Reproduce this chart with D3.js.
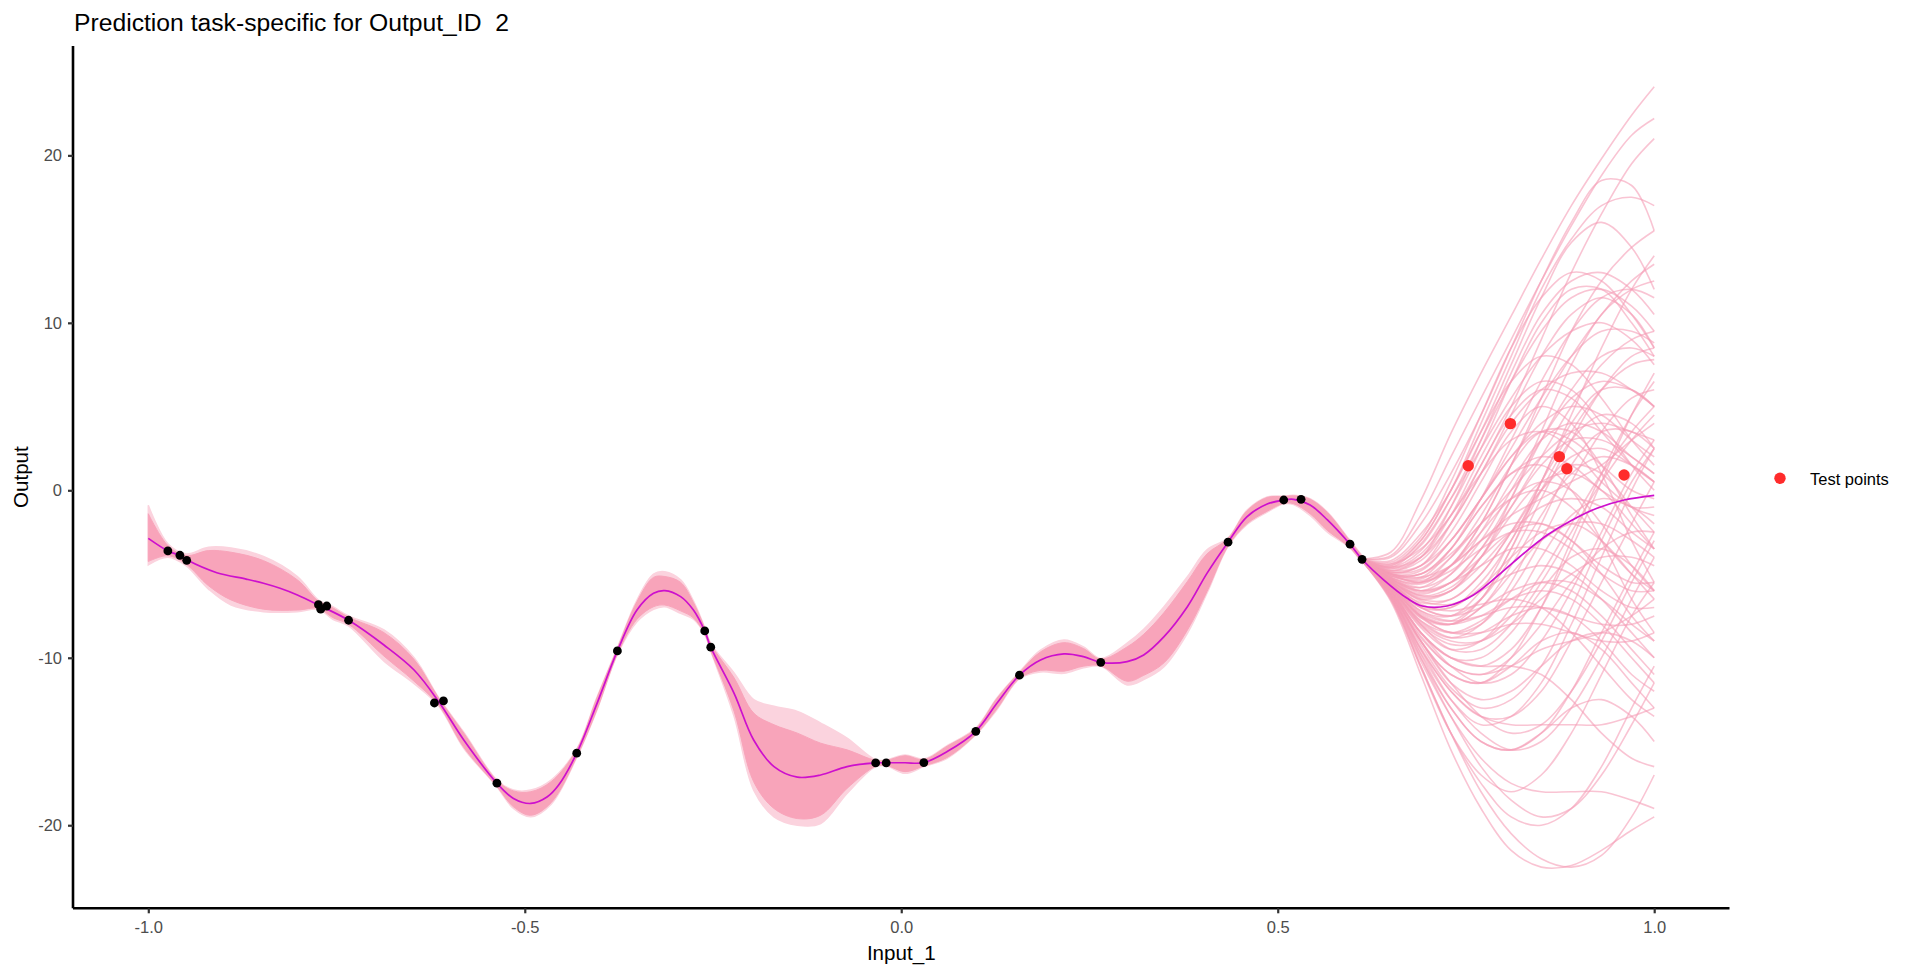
<!DOCTYPE html>
<html>
<head>
<meta charset="utf-8">
<script src="https://cdn.jsdelivr.net/npm/d3@7"></script>
<style>
  html, body { margin: 0; padding: 0; background: #ffffff; }
  svg { display: block; font-family: "Liberation Sans", Arial, sans-serif; }
</style>
</head>
<body>
<svg id="chart" width="1920" height="975"></svg>
<script>
// ---------------- data ----------------
const titleText = "Prediction task-specific for Output_ID  2";
const xLabel = "Input_1";
const yLabel = "Output";
const legendLabel = "Test points";

const xTicks = [-1.0, -0.5, 0.0, 0.5, 1.0];
const yTicks = [-20, -10, 0, 10, 20];

// training observations (black)
const trainX = [-0.974, -0.958, -0.949, -0.774, -0.771, -0.763, -0.734, -0.620, -0.608, -0.537,
                -0.431, -0.377, -0.261, -0.253, -0.034, -0.020, 0.030, 0.099, 0.157, 0.265,
                0.434, 0.508, 0.531, 0.596, 0.612];
const trainY = [-3.62, -3.88, -4.18, -6.83, -7.10, -6.91, -7.76, -12.70, -12.58, -17.49,
                -15.70, -9.59, -8.40, -9.37, -16.28, -16.28, -16.26, -14.39, -11.04, -10.27,
                -3.10, -0.58, -0.54, -3.22, -4.12];

// test points (red)
const testX = [0.753, 0.809, 0.874, 0.884, 0.960];
const testY = [1.47, 3.98, 2.01, 1.29, 0.91];

// predictive mean (magenta line)
const meanX = [-1.000, -0.974, -0.958, -0.949, -0.909, -0.870, -0.847, -0.825, -0.802, -0.774,
               -0.734, -0.687, -0.647, -0.614, -0.581, -0.537, -0.515, -0.492, -0.470, -0.455,
               -0.431, -0.404, -0.377, -0.351, -0.329, -0.314, -0.293, -0.276, -0.261, -0.253,
               -0.222, -0.196, -0.169, -0.138, -0.107, -0.072, -0.034, -0.020, 0.005, 0.030,
               0.061, 0.099, 0.127, 0.157, 0.185, 0.216, 0.242, 0.265, 0.300, 0.322,
               0.349, 0.380, 0.406, 0.434, 0.459, 0.486, 0.508, 0.521, 0.543, 0.566,
               0.596, 0.612, 0.641, 0.672, 0.692, 0.725, 0.760, 0.796, 0.827, 0.858,
               0.890, 0.924, 0.960, 1.000];
const meanY = [-2.87, -3.62, -3.90, -4.15, -4.92, -5.30, -5.55, -5.85, -6.25, -6.85,
               -7.76, -9.24, -10.73, -12.64, -14.91, -17.49, -18.40, -18.70, -18.30, -17.60,
               -15.70, -12.72, -9.59, -7.15, -6.15, -5.99, -6.35, -7.15, -8.40, -9.37,
               -12.12, -14.91, -16.50, -17.13, -17.00, -16.50, -16.28, -16.27, -16.27, -16.26,
               -15.60, -14.39, -12.72, -11.04, -10.13, -9.77, -9.93, -10.27, -10.23, -9.83,
               -8.74, -6.95, -4.96, -3.10, -1.58, -0.82, -0.58, -0.54, -0.88, -1.77,
               -3.22, -4.12, -5.36, -6.45, -6.91, -6.91, -6.25, -4.96, -3.76, -2.67,
               -1.80, -1.07, -0.58, -0.30];

// envelope of the posterior samples where they stay bundled
const bandX = [-1.000, -0.974, -0.950, -0.920, -0.890, -0.847, -0.802, -0.774, -0.755, -0.734,
               -0.687, -0.647, -0.614, -0.581, -0.537, -0.515, -0.492, -0.465, -0.431, -0.404,
               -0.377, -0.351, -0.329, -0.314, -0.293, -0.276, -0.261, -0.253, -0.222, -0.196,
               -0.169, -0.138, -0.107, -0.072, -0.034, -0.020, 0.005, 0.030, 0.061, 0.099,
               0.127, 0.157, 0.185, 0.216, 0.242, 0.265, 0.300, 0.322, 0.349, 0.380,
               0.406, 0.434, 0.459, 0.486, 0.508, 0.521, 0.543, 0.566, 0.596, 0.612];
const bandOuterHi = [-0.9, -3.2, -3.8, -3.4, -3.45, -3.95, -5.15, -6.55, -6.95, -7.5,
               -8.34, -10.0, -12.4, -14.45, -17.3, -17.9, -17.9, -17.3, -15.45, -12.35,
               -9.4, -6.55, -5.0, -4.86, -5.35, -6.6, -8.2, -9.15, -10.9, -12.5,
               -12.9, -13.2, -13.9, -14.8, -16.1, -16.1, -15.8, -16.05, -15.25, -14.2,
               -12.4, -10.85, -9.55, -8.94, -9.35, -10.05, -9.13, -8.3, -6.95, -5.16,
               -3.56, -2.85, -1.2, -0.4, -0.35, -0.3, -0.5, -1.3, -3.0, -3.9];
const bandInnerHi = [-1.4, -3.3, -3.9, -3.6, -3.7, -4.2, -5.35, -6.62, -7.02, -7.58,
               -8.5, -10.1, -12.43, -14.5, -17.33, -17.95, -18.0, -17.4, -15.48, -12.38,
               -9.43, -6.65, -5.2, -5.15, -5.5, -6.7, -8.23, -9.18, -11.2, -13.3,
               -14.0, -14.5, -15.1, -15.5, -16.13, -16.13, -15.85, -16.08, -15.28, -14.23,
               -12.43, -10.88, -9.65, -9.1, -9.45, -10.08, -9.35, -8.6, -7.3, -5.45,
               -3.8, -2.88, -1.23, -0.43, -0.38, -0.33, -0.53, -1.33, -3.03, -3.93];
const bandInnerLo = [-4.25, -3.9, -4.4, -5.7, -6.55, -7.1, -7.15, -7.05, -7.6, -8.0,
               -9.9, -11.4, -12.85, -15.35, -17.68, -18.9, -19.4, -18.65, -15.92, -13.08,
               -9.78, -7.7, -6.95, -6.85, -7.2, -7.62, -8.58, -9.58, -13.2, -17.4,
               -19.0, -19.6, -19.4, -17.8, -16.48, -16.43, -16.8, -16.46, -15.95, -14.58,
               -13.05, -11.23, -10.75, -10.8, -10.5, -10.48, -11.4, -11.05, -10.3, -8.35,
               -6.05, -3.33, -2.0, -1.25, -0.78, -0.8, -1.4, -2.4, -3.43, -4.33];
const bandOuterLo = [-4.45, -4.0, -4.5, -5.9, -6.85, -7.25, -7.25, -7.1, -7.7, -8.1,
               -10.2, -11.55, -12.9, -15.4, -17.7, -19.0, -19.5, -18.75, -15.95, -13.1,
               -9.8, -7.85, -7.1, -6.95, -7.35, -7.7, -8.6, -9.6, -13.5, -17.9,
               -19.5, -20.0, -19.9, -18.1, -16.5, -16.45, -16.9, -16.5, -16.0, -14.6,
               -13.1, -11.25, -10.85, -10.93, -10.6, -10.5, -11.62, -11.3, -10.53, -8.54,
               -6.15, -3.35, -2.05, -1.3, -0.8, -0.85, -1.5, -2.5, -3.45, -4.35];

// individual posterior samples where they fan out (extrapolation region)
const fanX = [0.61, 0.65, 0.69, 0.73, 0.77, 0.81, 0.85, 0.89, 0.93, 0.97, 1.00];
const fanCurves = [
  [-4.1,-3.7,-0.6,3.4,7.0,10.4,13.8,17.0,19.8,22.4,24.1],
  [-4.1,-3.9,-1.5,2.0,5.5,9.0,12.5,15.8,18.8,21.2,22.2],
  [-4.1,-4.0,-2.0,1.0,4.5,8.5,12.5,16.0,18.5,18.2,15.5],
  [-4.1,-4.2,-2.6,0.0,3.5,7.5,11.5,14.8,16.0,14.5,12.0],
  [-4.1,-4.4,-3.5,-1.5,1.5,5.0,9.0,13.0,16.5,19.5,21.0],
  [-4.1,-4.6,-4.0,-2.0,1.0,4.5,8.0,10.5,11.5,10.5,8.5],
  [-4.1,-4.8,-4.5,-3.0,-0.5,2.5,5.5,8.0,9.5,9.5,8.8],
  [-4.1,-5.0,-5.5,-4.5,-2.0,1.5,5.0,8.0,10.5,12.5,13.5],
  [-4.1,-4.5,-3.0,0.0,3.5,6.5,8.0,7.5,5.5,3.0,1.5],
  [-4.1,-4.7,-4.0,-1.5,2.0,5.0,6.5,6.0,4.0,1.5,0.0],
  [-4.1,-5.2,-6.0,-5.5,-3.5,-0.5,3.0,6.0,8.0,8.5,8.0],
  [-4.1,-5.4,-6.5,-6.5,-5.0,-2.5,0.5,3.5,6.0,7.5,7.8],
  [-4.1,-5.5,-7.0,-7.5,-6.5,-4.0,-0.5,3.0,6.0,8.0,8.5],
  [-4.1,-5.3,-6.0,-5.0,-2.5,0.5,3.0,4.0,3.5,2.0,1.0],
  [-4.1,-5.1,-5.0,-3.5,-1.0,1.0,2.0,1.5,0.0,-1.0,-1.0],
  [-4.1,-5.6,-7.5,-8.5,-8.0,-6.0,-3.0,0.5,3.5,5.5,6.0],
  [-4.1,-5.8,-8.0,-9.5,-9.5,-8.0,-5.5,-2.5,0.5,3.0,4.5],
  [-4.1,-6.0,-8.5,-10.5,-11.5,-11.0,-9.0,-6.0,-2.5,1.0,3.0],
  [-4.1,-6.2,-9.5,-12.5,-14.5,-15.5,-15.0,-13.0,-10.0,-6.5,-4.0],
  [-4.1,-6.6,-11.0,-15.5,-19.0,-21.5,-22.5,-22.4,-21.5,-20.3,-19.5],
  [-4.1,-6.4,-10.5,-14.5,-18.0,-20.5,-22.0,-22.5,-21.8,-19.5,-17.0],
  [-4.1,-6.3,-10.0,-13.5,-16.5,-18.5,-19.5,-19.0,-17.0,-14.0,-11.5],
  [-4.1,-6.1,-9.0,-11.5,-13.5,-14.5,-14.0,-12.0,-9.0,-5.5,-3.0],
  [-4.1,-5.9,-8.0,-9.0,-9.0,-8.0,-6.5,-5.0,-4.0,-4.0,-4.5],
  [-4.1,-5.7,-7.5,-8.0,-7.0,-5.0,-3.0,-2.0,-2.0,-3.0,-4.0],
  [-4.1,-5.5,-6.5,-6.0,-4.0,-1.5,0.5,1.0,0.0,-2.0,-3.5],
  [-4.1,-5.2,-5.5,-4.0,-1.5,1.5,3.5,3.5,1.5,-1.5,-3.5],
  [-4.1,-4.9,-4.5,-2.5,0.5,3.5,5.0,4.0,1.0,-3.0,-5.5],
  [-4.1,-5.0,-5.0,-3.5,-1.0,1.0,1.5,0.0,-3.0,-6.5,-8.5],
  [-4.1,-5.4,-6.2,-5.5,-4.0,-2.5,-2.0,-3.0,-5.0,-7.5,-9.0],
  [-4.1,-5.8,-7.8,-8.8,-8.5,-7.5,-7.0,-7.5,-9.0,-11.0,-12.0],
  [-4.1,-6.0,-9.0,-11.5,-12.5,-12.0,-10.5,-9.0,-8.5,-9.0,-10.0],
  [-4.1,-6.2,-9.8,-13.0,-15.0,-15.5,-14.5,-13.0,-12.5,-13.5,-15.0],
  [-4.1,-6.4,-10.2,-13.5,-16.0,-17.5,-18.0,-18.0,-18.0,-18.5,-19.0],
  [-4.1,-6.3,-9.5,-12.0,-13.5,-13.5,-12.0,-9.0,-5.5,-2.0,0.5],
  [-4.1,-5.9,-8.5,-10.0,-10.5,-9.5,-7.0,-3.5,0.5,4.5,7.0],
  [-4.1,-5.6,-7.0,-7.0,-5.5,-3.0,0.5,4.5,8.5,12.0,14.0],
  [-4.1,-5.3,-5.8,-4.5,-2.0,1.5,5.5,9.5,12.5,14.5,15.5],
  [-4.1,-4.8,-4.0,-1.0,3.0,7.0,10.5,12.5,13.0,12.0,10.5],
  [-4.1,-4.9,-4.5,-2.0,1.5,4.5,6.0,5.5,3.5,1.5,0.5],
  [-4.1,-5.1,-5.3,-4.0,-2.0,-0.5,0.0,-1.0,-3.0,-5.0,-6.0],
  [-4.1,-5.5,-7.0,-7.5,-7.0,-6.0,-5.5,-6.0,-7.5,-9.5,-11.0],
  [-4.1,-5.7,-7.5,-8.0,-7.0,-4.5,-1.5,1.0,2.0,1.5,0.5],
  [-4.1,-6.0,-8.5,-10.0,-10.0,-8.5,-6.0,-4.0,-3.5,-4.5,-6.0],
  [-4.1,-6.1,-9.0,-11.0,-11.5,-10.5,-9.0,-8.5,-9.5,-11.5,-13.0],
  [-4.1,-6.5,-10.5,-14.5,-17.5,-19.5,-20.0,-19.0,-16.5,-13.0,-10.5],
  [-4.1,-5.6,-7.2,-7.5,-6.0,-3.0,0.0,2.0,2.5,1.5,0.5],
  [-4.1,-5.3,-6.0,-5.5,-4.5,-3.5,-3.5,-4.5,-6.0,-7.0,-7.0],
  [-4.1,-5.0,-4.8,-3.0,-0.5,2.0,4.0,5.0,4.5,3.0,2.0],
  [-4.1,-4.6,-3.2,-0.5,2.5,5.5,8.0,9.5,10.0,9.0,7.5],
  [-4.1,-5.2,-5.8,-5.0,-3.0,0.0,3.0,5.5,6.5,6.0,5.0],
  [-4.1,-5.9,-8.2,-9.5,-9.0,-7.0,-4.0,-1.5,-0.5,-1.0,-2.0],
  [-4.1,-5.4,-6.6,-6.8,-6.0,-5.0,-4.5,-5.0,-6.5,-8.5,-10.0],
  [-4.1,-5.8,-7.6,-8.0,-6.5,-3.5,0.0,3.0,4.5,4.0,2.5],
  [-4.1,-6.1,-8.8,-10.5,-11.0,-10.0,-8.0,-5.5,-3.5,-2.5,-2.5],
  [-4.1,-5.0,-5.2,-4.5,-3.0,-1.5,-0.5,0.5,1.5,3.0,4.0],
  [-4.1,-4.7,-3.8,-1.5,1.0,3.0,3.5,2.5,0.5,-1.0,-1.5],
  [-4.1,-5.5,-6.8,-7.2,-6.8,-6.5,-7.0,-8.5,-10.5,-12.5,-13.5],
  [-4.1,-6.2,-9.2,-11.8,-13.0,-12.5,-10.5,-7.0,-3.0,0.5,2.5],
  [-4.1,-6.0,-8.5,-10.0,-10.5,-10.5,-11.0,-12.5,-14.5,-16.0,-16.5],
  [-4.1,-4.3,-2.8,0.5,4.5,8.5,11.5,13.0,12.5,10.5,8.5],
  [-4.1,-4.5,-3.3,-0.5,3.0,6.5,9.5,11.5,12.0,11.0,9.5],
  [-4.1,-5.0,-5.2,-3.5,-0.5,3.0,6.5,9.5,11.5,12.0,11.5],
  [-4.1,-5.3,-6.3,-6.0,-4.0,-0.5,3.5,7.5,10.5,12.0,12.5],
  [-4.1,-5.6,-7.3,-7.8,-6.5,-3.5,0.5,4.0,6.0,6.0,5.0],
  [-4.1,-5.8,-7.9,-8.8,-8.0,-5.5,-2.0,1.5,3.5,3.5,2.5],
  [-4.1,-5.4,-6.4,-6.0,-4.5,-2.5,-1.0,-0.5,-1.0,-2.5,-3.5],
  [-4.1,-5.1,-5.4,-4.5,-3.0,-2.0,-2.0,-3.0,-4.5,-5.5,-5.5],
  [-4.1,-5.7,-7.6,-8.5,-8.5,-8.0,-8.0,-8.5,-9.0,-9.0,-8.5],
  [-4.1,-6.0,-8.7,-10.5,-11.0,-10.5,-9.5,-9.0,-8.5,-7.5,-6.5],
  [-4.1,-6.3,-9.7,-12.5,-14.0,-13.5,-11.5,-8.0,-4.0,0.0,2.5],
  [-4.1,-6.2,-9.4,-12.0,-13.5,-14.0,-14.0,-14.0,-14.0,-13.5,-13.0],
  [-4.1,-5.5,-6.9,-7.0,-5.8,-4.0,-2.5,-2.0,-3.0,-5.0,-6.5],
  [-4.1,-4.9,-4.7,-3.0,-0.5,2.0,3.5,3.0,1.5,0.0,-0.5],
  [-4.1,-5.2,-5.6,-4.5,-2.5,-0.5,0.5,0.0,-2.0,-4.5,-6.0],
  [-4.1,-5.6,-7.2,-7.8,-7.5,-7.0,-7.0,-7.5,-8.0,-8.0,-7.5],
  [-4.1,-5.9,-8.1,-9.2,-9.0,-7.5,-5.0,-2.0,1.0,3.5,5.0],
  [-4.1,-4.4,-3.0,0.0,4.0,8.0,12.0,15.0,17.0,17.5,17.0],
  [-4.1,-4.6,-3.6,-1.0,2.5,6.5,10.0,12.0,12.0,10.0,8.0],
  [-4.1,-5.3,-6.1,-5.5,-3.5,-1.0,1.5,3.0,3.0,2.0,1.0],
  [-4.1,-6.4,-10.0,-13.0,-15.0,-15.5,-14.5,-12.0,-8.5,-5.0,-2.5],
  [-4.1,-6.5,-10.6,-14.5,-17.0,-18.0,-17.0,-14.5,-11.0,-7.5,-5.5],
  [-4.1,-5.0,-5.0,-3.8,-2.0,0.0,2.0,3.5,4.0,3.5,3.0],
  [-4.1,-5.5,-6.7,-6.5,-5.0,-2.5,0.0,1.5,1.0,-1.0,-2.5],
  [-4.1,-5.7,-7.4,-8.0,-7.5,-6.5,-6.0,-6.5,-8.0,-10.0,-11.5],
  [-4.1,-4.8,-4.2,-2.0,1.0,4.0,6.0,7.0,7.0,6.0,5.0],
  [-4.1,-5.1,-5.5,-4.8,-3.5,-2.5,-2.5,-3.5,-5.0,-6.0,-6.0],
  [-4.1,-6.1,-9.0,-11.0,-11.5,-10.0,-7.0,-3.0,1.0,4.5,6.5],
  [-4.1,-5.4,-6.3,-5.8,-4.0,-1.0,2.0,5.0,7.5,9.0,9.5],
  [-4.1,-5.8,-7.8,-8.5,-7.8,-6.5,-5.5,-5.5,-6.5,-8.0,-9.0]
];

// ---------------- drawing ----------------
const svg = d3.select("#chart");
const plotLeft = 73, plotRight = 1729.5, plotTop = 46, plotBottom = 908.3;

const x = d3.scaleLinear().domain([-1.1, 1.1]).range([plotLeft, plotRight]);
const y = d3.scaleLinear().domain([-24.96, 26.53]).range([plotBottom, plotTop]);

const curve = d3.curveCatmullRom.alpha(0.5);

// band areas
const bandIdx = d3.range(bandX.length);
const areaOuter = d3.area().curve(curve)
  .x(i => x(bandX[i])).y0(i => y(bandOuterLo[i])).y1(i => y(bandOuterHi[i]));
const areaInner = d3.area().curve(curve)
  .x(i => x(bandX[i])).y0(i => y(bandInnerLo[i])).y1(i => y(bandInnerHi[i]));

svg.append("path").attr("d", areaOuter(bandIdx)).attr("fill", "#fbd3de")
  .attr("stroke", "#fbd3de").attr("stroke-width", 1.5);
svg.append("path").attr("d", areaInner(bandIdx)).attr("fill", "#f8a4ba")
  .attr("stroke", "#f8a4ba").attr("stroke-width", 1);

// fan sample curves
const fanLine = d3.line().curve(curve).x((d, i) => x(fanX[i])).y(d => y(d));
svg.append("g").selectAll("path").data(fanCurves).join("path")
  .attr("d", d => fanLine(d))
  .attr("fill", "none")
  .attr("stroke", "#f59db5")
  .attr("stroke-opacity", 0.6)
  .attr("stroke-width", 1.6);

// mean line
const meanLine = d3.line().curve(curve).x(i => x(meanX[i])).y(i => y(meanY[i]));
svg.append("path").attr("d", meanLine(d3.range(meanX.length)))
  .attr("fill", "none").attr("stroke", "#cd10cd").attr("stroke-width", 1.7);

// training points
svg.append("g").selectAll("circle").data(d3.range(trainX.length)).join("circle")
  .attr("cx", i => x(trainX[i])).attr("cy", i => y(trainY[i]))
  .attr("r", 4.4).attr("fill", "#000000");

// test points
svg.append("g").selectAll("circle").data(d3.range(testX.length)).join("circle")
  .attr("cx", i => x(testX[i])).attr("cy", i => y(testY[i]))
  .attr("r", 5.7).attr("fill", "#ff2b2b");

// axes
const hyphen = s => s.replace("\u2212", "-");
const xAxis = d3.axisBottom(x).tickValues(xTicks).tickFormat(d => hyphen(d3.format(".1f")(d)))
  .tickSize(5).tickSizeOuter(0).tickPadding(8);
const yAxis = d3.axisLeft(y).tickValues(yTicks).tickFormat(d => hyphen(d3.format("d")(d)))
  .tickSize(5).tickSizeOuter(0).tickPadding(6);

const gx = svg.append("g").attr("transform", `translate(0,${plotBottom})`).call(xAxis);
const gy = svg.append("g").attr("transform", `translate(${plotLeft},0)`).call(yAxis);
[gx, gy].forEach(g => {
  g.select(".domain").attr("stroke", "#000").attr("stroke-width", 2.6);
  g.selectAll(".tick line").attr("stroke", "#333333").attr("stroke-width", 2.2);
  g.selectAll(".tick text").attr("fill", "#4d4d4d")
    .style("font-size", "16.5px").style("font-family", '"Liberation Sans", Arial, sans-serif');
});
gx.select(".domain").attr("d", `M${plotLeft},0H${plotRight}`);
gy.select(".domain").attr("d", `M0,${plotTop}V${plotBottom}`);

// title
svg.append("text")
  .attr("x", 74).attr("y", 31)
  .attr("xml:space", "preserve")
  .style("white-space", "pre")
  .style("font-size", "24.7px").attr("fill", "#000")
  .text(titleText);

// axis titles
svg.append("text").attr("x", (plotLeft + plotRight) / 2).attr("y", 960)
  .attr("text-anchor", "middle").style("font-size", "20.6px").attr("fill", "#000")
  .text(xLabel);
svg.append("text").attr("transform", `translate(28,${(plotTop + plotBottom) / 2}) rotate(-90)`)
  .attr("text-anchor", "middle").style("font-size", "20.6px").attr("fill", "#000")
  .text(yLabel);

// legend
svg.append("circle").attr("cx", 1780).attr("cy", 478.3).attr("r", 5.7).attr("fill", "#ff2b2b");
svg.append("text").attr("x", 1810).attr("y", 484.5)
  .style("font-size", "16.5px").attr("fill", "#000").text(legendLabel);
</script>
</body>
</html>
